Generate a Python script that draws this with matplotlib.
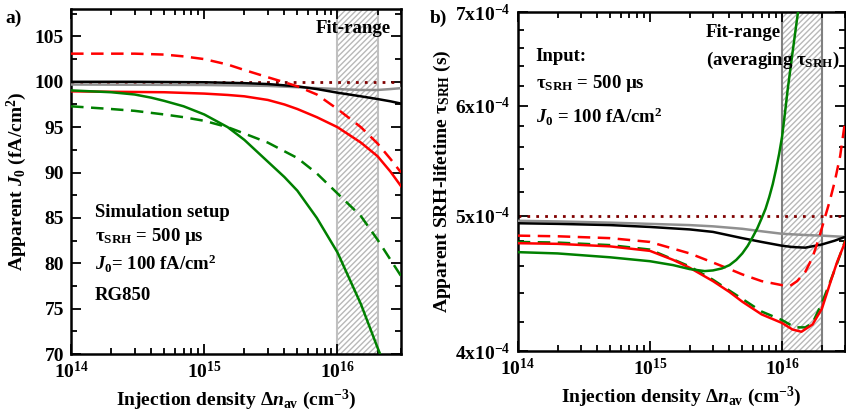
import numpy as np
import matplotlib
matplotlib.use("Agg")
import matplotlib.pyplot as plt
from matplotlib.ticker import FixedLocator, FixedFormatter, NullFormatter, MultipleLocator, LogLocator, LogFormatterMathtext

plt.rcParams['font.family'] = ['Liberation Serif', 'DejaVu Serif']
plt.rcParams['font.weight'] = 'bold'
plt.rcParams['axes.labelweight'] = 'bold'
plt.rcParams['mathtext.fontset'] = 'custom'
plt.rcParams['mathtext.rm'] = 'Liberation Serif:bold'
plt.rcParams['mathtext.it'] = 'Liberation Serif:italic:bold'
plt.rcParams['mathtext.bf'] = 'Liberation Serif:bold'
plt.rcParams['mathtext.default'] = 'rm'
plt.rcParams['hatch.linewidth'] = 1.0

# ---------------- data: panel a) apparent J0 (fA/cm2) ----------------
xa_black = [1e14, 3e14, 1e15, 2e15, 3e15, 5e15, 7e15, 1e16, 1.5e16, 2e16, 2.5e16, 3e16]
ya_black = [100.0, 100.0, 99.95, 99.85, 99.75, 99.5, 99.2, 98.8, 98.4, 98.1, 97.85, 97.6]

xa_gray = [1e14, 1e15, 3e15, 5e15, 7e15, 1e16, 1.5e16, 2e16, 2.5e16, 3e16]
ya_gray = [99.7, 99.65, 99.55, 99.4, 99.3, 99.2, 99.1, 99.1, 99.2, 99.3]

xa_red = [1e14, 2e14, 5e14, 1e15, 1.5e15, 2e15, 3e15, 4e15, 5e15, 7e15, 1e16, 1.5e16, 2e16, 2.5e16, 3e16]
ya_red = [98.95, 98.9, 98.85, 98.7, 98.55, 98.4, 98.0, 97.5, 97.0, 96.1, 95.0, 93.3, 91.8, 90.1, 88.5]

xa_red_d = [1e14, 3e14, 5e14, 7e14, 1e15, 1.5e15, 2e15, 3e15, 4e15, 5e15, 7e15, 1e16, 1.5e16, 2e16, 2.5e16, 3e16]
ya_red_d = [103.1, 103.1, 103.0, 102.8, 102.5, 101.9, 101.3, 100.5, 99.95, 99.5, 98.6, 97.0, 95.0, 93.2, 91.5, 90.0]

xa_green = [1e14, 2e14, 3e14, 4e14, 5e14, 7e14, 1e15, 1.5e15, 2e15, 3e15, 4e15, 5e15, 7e15, 1e16, 1.5e16, 2e16, 2.3e16]
ya_green = [99.05, 98.85, 98.6, 98.25, 97.9, 97.3, 96.4, 95.0, 93.6, 91.2, 89.5, 88.0, 85.0, 81.2, 75.5, 70.7, 68.5]

xa_green_d = [1e14, 2e14, 3e14, 5e14, 7e14, 1e15, 1.5e15, 2e15, 3e15, 5e15, 7e15, 1e16, 1.5e16, 2e16, 2.5e16, 3e16]
ya_green_d = [97.3, 97.0, 96.8, 96.4, 96.1, 95.7, 95.0, 94.3, 93.3, 91.6, 89.9, 87.7, 85.2, 82.6, 80.4, 78.6]

# ---------------- data: panel b) apparent tau_SRH (x1e-4 s) ----------------
xb_black = [1e14, 2e14, 5e14, 1e15, 2e15, 3e15, 5e15, 7e15, 1e16, 1.2e16, 1.5e16, 2e16, 2.5e16, 3e16]
yb_black = [4.94, 4.935, 4.925, 4.91, 4.89, 4.87, 4.82, 4.79, 4.76, 4.75, 4.745, 4.77, 4.80, 4.83]

xb_gray = [1e14, 2e14, 5e14, 1e15, 2e15, 3e15, 5e15, 7e15, 1e16, 1.5e16, 2e16, 3e16]
yb_gray = [4.96, 4.955, 4.945, 4.935, 4.925, 4.915, 4.895, 4.875, 4.855, 4.845, 4.84, 4.83]

xb_red = [1e14, 2e14, 5e14, 1e15, 1.5e15, 2e15, 3e15, 4e15, 5e15, 7e15, 1e16, 1.2e16, 1.4e16, 1.7e16, 2e16, 2.3e16, 2.6e16, 3e16]
yb_red = [4.78, 4.775, 4.755, 4.72, 4.65, 4.59, 4.49, 4.41, 4.34, 4.25, 4.19, 4.145, 4.13, 4.18, 4.29, 4.47, 4.63, 4.79]

xb_red_d = [1e14, 2e14, 5e14, 1e15, 2e15, 3e15, 4e15, 5e15, 7e15, 1e16, 1.15e16, 1.3e16, 1.5e16, 1.7e16, 1.9e16, 2.1e16, 2.3e16, 2.5e16, 2.75e16, 3e16]
yb_red_d = [4.84, 4.835, 4.82, 4.79, 4.70, 4.63, 4.58, 4.54, 4.49, 4.46, 4.455, 4.49, 4.56, 4.67, 4.82, 4.98, 5.13, 5.29, 5.52, 5.85]

xb_green = [1e14, 2e14, 5e14, 1e15, 1.5e15, 2e15, 2.6e15, 3e15, 3.5e15, 4e15, 4.5e15, 5e15, 5.5e15, 6e15, 6.5e15,
            7e15, 7.5e15, 8e15, 8.5e15, 9e15, 9.5e15, 1e16, 1.05e16, 1.1e16, 1.2e16, 1.3e16, 1.35e16]
yb_green = [4.71, 4.70, 4.67, 4.64, 4.61, 4.58, 4.565, 4.57, 4.585, 4.61, 4.65, 4.70, 4.76, 4.83, 4.90,
            4.98, 5.06, 5.16, 5.27, 5.40, 5.54, 5.70, 5.92, 6.15, 6.55, 6.93, 7.1]

xb_green_d = [1e14, 2e14, 5e14, 1e15, 2e15, 3e15, 4e15, 5e15, 7e15, 1e16, 1.25e16, 1.5e16, 1.7e16, 2e16, 2.3e16, 2.6e16, 3e16]
yb_green_d = [4.79, 4.785, 4.765, 4.73, 4.60, 4.50, 4.42, 4.36, 4.27, 4.21, 4.16, 4.16, 4.19, 4.33, 4.48, 4.62, 4.80]

fit_range = (1e16, 2e16)
tau_ticks = [4, 5, 6, 7]
tau_labels = ['4x10$^{-4}$', '5x10$^{-4}$', '6x10$^{-4}$', '7x10$^{-4}$']

RED = '#ff0000'
GREEN = '#008000'
GRAY = '#909090'
DOT = '#800000'
LW = 1.8
FS = 13.5

fig = plt.figure(figsize=(8.46, 4.18), dpi=100)
ax1 = fig.add_axes([0.084, 0.153, 0.390, 0.825])
ax2 = fig.add_axes([0.612, 0.160, 0.387, 0.811])


def style_axes(ax):
    ax.set_xscale('log')
    ax.set_xlim(1e14, 3e16)
    ax.tick_params(which='both', direction='in', top=True, right=True, width=1.3, labelsize=14)
    ax.tick_params(which='major', length=7, pad=5)
    ax.tick_params(which='minor', length=4)
    ax.xaxis.set_major_locator(LogLocator(base=10, numticks=10))
    ax.xaxis.set_minor_locator(LogLocator(base=10, subs=np.arange(2, 10), numticks=10))
    ax.xaxis.set_major_formatter(LogFormatterMathtext())
    ax.xaxis.set_minor_formatter(NullFormatter())
    for s in ax.spines.values():
        s.set_linewidth(1.8)
    ax.set_xlabel('Injection density Δ$\\mathit{n}_{\\mathrm{av}}$ (cm$^{-3}$)', fontsize=14, labelpad=4)


# ---------------- panel a ----------------
style_axes(ax1)
ax1.set_ylim(70, 108)
ax1.yaxis.set_major_locator(MultipleLocator(5))
ax1.yaxis.set_minor_locator(MultipleLocator(2.5))
ax1.axvspan(*fit_range, facecolor='white', edgecolor='#b8b8b8', hatch='//////', linewidth=0, zorder=0.5)
for xv in fit_range:
    ax1.axvline(xv, color='#c0c0c0', lw=1.5, zorder=0.6)
ax1.axhline(100, color=DOT, lw=2, ls=(0, (1, 2.2)), zorder=2)
ax1.plot(xa_gray, ya_gray, color=GRAY, lw=LW, zorder=3)
ax1.plot(xa_black, ya_black, color='black', lw=LW, zorder=3)
ax1.plot(xa_red, ya_red, color=RED, lw=LW, zorder=3)
ax1.plot(xa_red_d, ya_red_d, color=RED, lw=LW, ls=(0, (5, 3)), zorder=3)
ax1.plot(xa_green, ya_green, color=GREEN, lw=LW, zorder=3)
ax1.plot(xa_green_d, ya_green_d, color=GREEN, lw=LW, ls=(0, (5, 3)), zorder=3)
ax1.set_ylabel('Apparent $\\mathit{J}_0$ (fA/cm$^2$)', fontsize=14, labelpad=4)

ax1.text(0.073, 0.41, 'Simulation setup', transform=ax1.transAxes, fontsize=FS, va='center')
ax1.text(0.073, 0.34, 'τ$_{\\mathrm{SRH}}$ = 500 µs', transform=ax1.transAxes, fontsize=FS, va='center')
ax1.text(0.073, 0.26, '$\\mathit{J}_0$= 100 fA/cm$^2$', transform=ax1.transAxes, fontsize=FS, va='center')
ax1.text(0.073, 0.17, 'RG850', transform=ax1.transAxes, fontsize=FS, va='center')
ax1.text(0.855, 0.945, 'Fit-range', transform=ax1.transAxes, fontsize=FS, va='center', ha='center')

# ---------------- panel b ----------------
style_axes(ax2)
ax2.set_yscale('log')
ax2.set_ylim(4, 7)
ax2.yaxis.set_major_locator(FixedLocator(tau_ticks))
ax2.yaxis.set_major_formatter(FixedFormatter(tau_labels))
ax2.yaxis.set_minor_locator(FixedLocator(np.arange(4.2, 7.0, 0.2)))
ax2.yaxis.set_minor_formatter(NullFormatter())
ax2.axvspan(*fit_range, facecolor='white', edgecolor='#b8b8b8', hatch='//////', linewidth=0, zorder=0.5)
for xv in fit_range:
    ax2.axvline(xv, color='#808080', lw=1.5, zorder=0.6)
ax2.axhline(5, color=DOT, lw=2, ls=(0, (1, 2.2)), zorder=2)
ax2.plot(xb_gray, yb_gray, color=GRAY, lw=LW, zorder=3)
ax2.plot(xb_black, yb_black, color='black', lw=LW, zorder=3)
ax2.plot(xb_green_d, yb_green_d, color=GREEN, lw=LW, ls=(0, (5, 3)), zorder=3)
ax2.plot(xb_red, yb_red, color=RED, lw=LW, zorder=3)
ax2.plot(xb_red_d, yb_red_d, color=RED, lw=LW, ls=(0, (5, 3)), zorder=3)
ax2.plot(xb_green, yb_green, color=GREEN, lw=LW, zorder=3)
ax2.set_ylabel('Apparent SRH-lifetime τ$_{\\mathrm{SRH}}$ (s)', fontsize=14, labelpad=2)

ax2.text(0.055, 0.87, 'Input:', transform=ax2.transAxes, fontsize=FS, va='center')
ax2.text(0.055, 0.79, 'τ$_{\\mathrm{SRH}}$ = 500 µs', transform=ax2.transAxes, fontsize=FS, va='center')
ax2.text(0.055, 0.69, '$\\mathit{J}_0$ = 100 fA/cm$^2$', transform=ax2.transAxes, fontsize=FS, va='center')
ax2.text(0.575, 0.94, 'Fit-range', transform=ax2.transAxes, fontsize=FS, va='center')
ax2.text(0.575, 0.857, '(averaging τ$_{\\mathrm{SRH}}$)', transform=ax2.transAxes, fontsize=FS, va='center')

fig.text(0.006, 0.955, 'a)', fontsize=14, va='center')
fig.text(0.508, 0.955, 'b)', fontsize=14, va='center')

fig.savefig('out.png', dpi=100)
